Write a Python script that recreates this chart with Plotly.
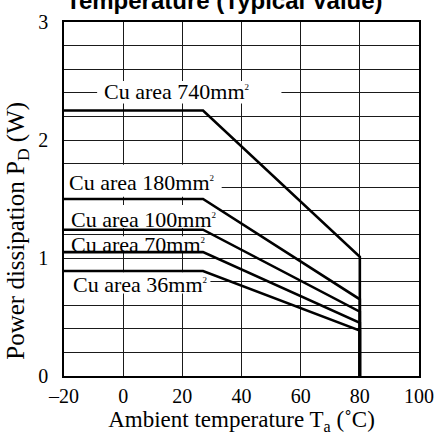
import plotly.graph_objects as go

# ---- data ----
cu_areas = ["740", "180", "100", "70", "36"]          # mm^2
pd_flat = [2.25, 1.50, 1.24, 1.05, 0.89]              # W, flat part (-20 .. knee)
pd_at_80 = [1.01, 0.65, 0.545, 0.45, 0.385]           # W at Ta = 80 C
knee_ta = 27                                          # C, start of derating
ta_start = -20
ta_end = 80
pd_end = 0

x_ticks = [-20, 0, 20, 40, 60, 80, 100]
x_tick_text = ["–20", "0", "20", "40", "60", "80", "100"]
y_ticks = [round(i * 0.2, 1) for i in range(16)]
y_tick_text = [str(int(v)) if abs(v - round(v)) < 1e-9 else "" for v in y_ticks]

# label placements (x left, y centre) and white boxes [x0, x1, y0, y1]
label_pos = [(-6.8, 2.41), (-18.6, 1.64), (-17.9, 1.33), (-17.9, 1.115), (-17.2, 0.775)]
label_box = [(-8.8, 53.5, 2.31, 2.50), (-20, 33.3, 1.52, 1.79), (-20, 32.5, 1.255, 1.45),
             (-20, 28.5, 1.062, 1.185), (-20, 29.5, 0.70, 0.88)]

SERIF = "Liberation Serif, Times New Roman, serif"

fig = go.Figure()
for name, p0, p80 in zip(cu_areas, pd_flat, pd_at_80):
    fig.add_trace(go.Scatter(
        x=[ta_start, knee_ta, ta_end, ta_end],
        y=[p0, p0, p80, pd_end],
        mode="lines",
        line=dict(color="black", width=2.6),
        name=f"Cu area {name}mm²",
        showlegend=False,
        hoverinfo="skip",
    ))

for (bx0, bx1, by0, by1) in label_box:
    fig.add_shape(type="rect", xref="x", yref="y", x0=bx0, x1=bx1, y0=by0, y1=by1,
                  fillcolor="white", line=dict(width=0), layer="between")

for name, (lx, ly) in zip(cu_areas, label_pos):
    fig.add_annotation(x=lx, y=ly, xref="x", yref="y", xanchor="left", yanchor="middle",
                       text=f"Cu area {name}mm<sup><span style='font-size:9px'>2</span></sup>",
                       showarrow=False, borderpad=0,
                       font=dict(family=SERIF, size=22, color="black"))

fig.add_annotation(x=0.452, y=1.017, xref="paper", yref="paper", xanchor="center",
                   yanchor="bottom", text="<b>Temperature (Typical Value)</b>",
                   showarrow=False,
                   font=dict(family="Liberation Sans, Arial, sans-serif", size=24, color="black"))

# y-axis title (placed lower than the axis centre, as in the reference)
fig.add_annotation(x=-0.13, y=0.41, xref="paper", yref="paper", xanchor="center",
                   yanchor="middle", textangle=-90, showarrow=False,
                   text="Power dissipation P<sub>D</sub> (W)",
                   font=dict(family=SERIF, size=25, color="black"))

fig.update_layout(
    width=440, height=439,
    margin=dict(l=64, r=21, t=22, b=63, autoexpand=False),
    paper_bgcolor="white", plot_bgcolor="white",
    font=dict(family=SERIF, size=19, color="black"),
    xaxis=dict(
        range=[-20, 100], tickvals=x_ticks, ticktext=x_tick_text,
        showgrid=True, gridcolor="#1a1a1a", gridwidth=1,
        showline=True, linecolor="black", linewidth=1.6, mirror=True,
        zeroline=False, ticks="", ticklabelstandoff=1, automargin=False,
        tickfont=dict(family=SERIF, size=20),
        title=dict(text="Ambient temperature T<sub>a</sub> (˚C)",
                   font=dict(family=SERIF, size=23), standoff=2),
    ),
    yaxis=dict(
        range=[0, 3], tickvals=y_ticks, ticktext=y_tick_text,
        showgrid=True, gridcolor="#1a1a1a", gridwidth=1,
        showline=True, linecolor="black", linewidth=1.6, mirror=True,
        zeroline=False, ticks="", ticklabelstandoff=10, automargin=False,
        tickfont=dict(family=SERIF, size=20),
    ),
)

fig.write_html("out.html", config={"displayModeBar": False},
               post_script="document.body.style.margin='0';document.body.style.overflow='hidden';")
